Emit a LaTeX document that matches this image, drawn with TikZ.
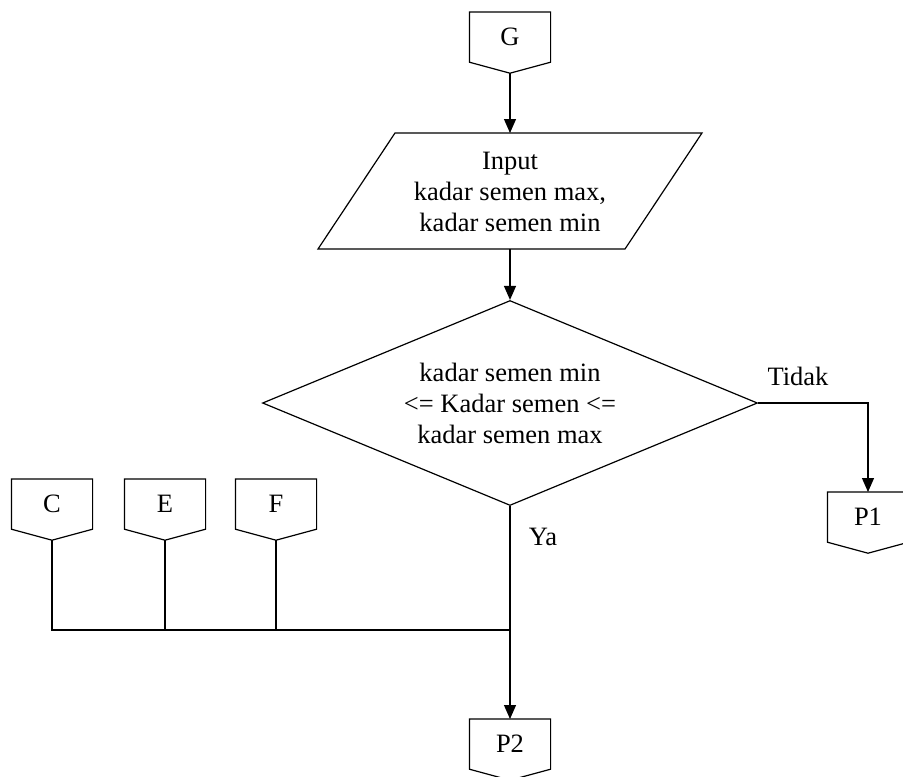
\documentclass[tikz,border=0pt]{standalone}
\usepackage{fontspec}
\setmainfont{Liberation Serif}
\usetikzlibrary{arrows.meta,shapes.geometric,calc}

\newcommand\figfont{\fontsize{26.5}{31}\selectfont}
% off-page connector: name, x of centre, y of top edge
\newcommand\offpage[3]{%
  \node[conn,anchor=north] (#1) at (#2,#3) {#1};
  \coordinate (#1-tip) at ($(#1.south)+(0,11)$);
  \draw (#1.north west) -- (#1.north east) -- (#1.south east)
        -- (#1-tip) -- (#1.south west) -- cycle;
}

\begin{document}
\begin{tikzpicture}[x=1pt,y=-1pt, line width=1.2pt, font=\figfont,
  conn/.style={minimum width=80pt, minimum height=49pt, inner sep=0pt},
  flow/.style={-{Triangle[length=14pt,width=12pt]}}]
\useasboundingbox (0,0) rectangle (903,777);

% connectors to and from other pages
\offpage{G}{510}{12}
\offpage{P1}{868}{492}
\offpage{P2}{510}{719}
\offpage{C}{52}{479}
\offpage{E}{165}{479}
\offpage{F}{276}{479}

% input block
\draw (395,133) -- (702,133) -- (625,249) -- (318,249) -- cycle;
\coordinate (inTop) at (510,133);
\coordinate (inBot) at (510,249);
\node[align=center] (inp) at (510,192) {Input\\ kadar semen max,\\ kadar semen min};

% decision
\node[diamond, draw, aspect=2.41, minimum width=495pt, minimum height=205pt,
      inner sep=0pt, align=center] (dec) at (510,403)
  {kadar semen min\\ <= Kadar semen <=\\ kadar semen max};

% flow lines
\draw[flow] (G-tip) -- (inTop);
\draw[flow] (inBot) -- (dec.north);
\draw[flow] (dec.east) -| (P1.north);
\draw[flow] (dec.south) -- (P2.north);

\coordinate (join) at (510,630);
\draw (C-tip) |- (join);
\draw (E-tip) -- (E-tip |- join);
\draw (F-tip) -- (F-tip |- join);

% branch labels
\node (tidak) at (798,376) {Tidak};
\node (ya) at (543,537) {Ya};
\end{tikzpicture}
\end{document}
